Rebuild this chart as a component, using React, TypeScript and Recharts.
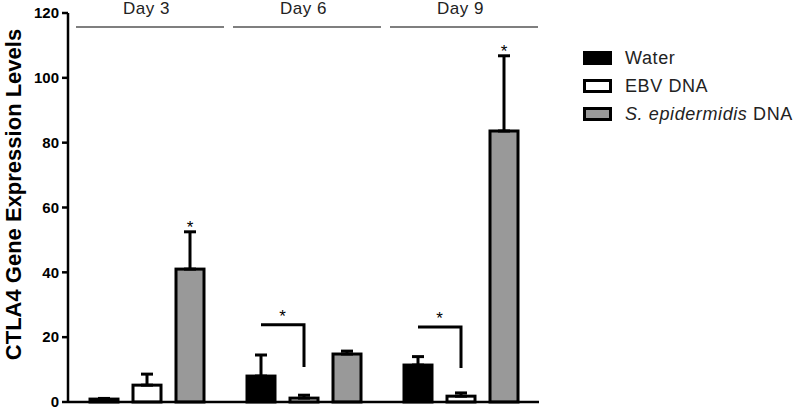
import React from "react";
import { ComposedChart, Bar, XAxis, YAxis, ErrorBar } from "recharts";

const days = ["Day 3", "Day 6", "Day 9"];
const water = [0.9, 8.0, 11.4];
const waterErr = [0.2, 6.5, 2.6];
const ebv = [5.2, 1.2, 1.8];
const ebvErr = [3.4, 0.9, 1.0];
const sEpi = [41.0, 14.8, 83.6];
const sEpiErr = [11.5, 0.9, 23.2];
// significance: star over S. epidermidis bar, bracket Water -> EBV
const sEpiStar = [true, false, true];
const bracketTop = [null, 23.8, 23.1];
const bracketBottom = [null, 10.8, 10.5];
const yTicks = [0, 20, 40, 60, 80, 100, 120];
const seriesNames = ["Water", "EBV DNA", "S. epidermidis DNA"];
const seriesFills = ["#000000", "#ffffff", "#999999"];

const FONT = "'Liberation Sans', Arial, sans-serif";
const BAR_SIZE = 28;
const BAR_GAP = 15;

const data = days.map((day, i) => ({
  day,
  water: water[i],
  waterErr: [0, waterErr[i]],
  ebv: ebv[i],
  ebvErr: [0, ebvErr[i]],
  sEpi: sEpi[i],
  sEpiErr: [0, sEpiErr[i]],
  star: sEpiStar[i],
  bTop: bracketTop[i],
  bBottom: bracketBottom[i],
}));

const makeShape = (field: string, fill: string) => (props: any) => {
  const { x, y, width, height, payload } = props;
  const value = payload[field];
  const k = value > 0 ? height / value : 0; // px per unit
  const base = y + height;
  const cx = x + width / 2;
  const extra: React.ReactNode[] = [];

  if (field === "sEpi" && payload.star) {
    const capY = base - (value + payload.sEpiErr[1]) * k;
    extra.push(
      <text key="s" x={cx} y={capY + 1} textAnchor="middle" fontSize={17} fontFamily={FONT} fill="#000">*</text>
    );
  }
  if (field === "ebv" && payload.bTop != null) {
    const topY = base - payload.bTop * k;
    const botY = base - payload.bBottom * k;
    const leftX = cx - (BAR_SIZE + BAR_GAP);
    extra.push(
      <g key="b">
        <polyline
          points={`${leftX},${topY} ${cx},${topY} ${cx},${botY}`}
          fill="none"
          stroke="#000"
          strokeWidth={3}
        />
        <text x={(leftX + cx) / 2} y={topY - 3} textAnchor="middle" fontSize={17} fontFamily={FONT} fill="#000">*</text>
      </g>
    );
  }

  return (
    <g>
      <rect x={x} y={y} width={width} height={Math.max(height, 0)} fill={fill} stroke="#000" strokeWidth={3} />
      {extra}
    </g>
  );
};

const DayTick = (props: any) => {
  const { x, y, payload } = props;
  const half = payload && payload.offset ? payload.offset : 78.5;
  return (
    <g>
      <text x={x} y={y + 1} textAnchor="middle" fontSize={17} letterSpacing={0.5} fontFamily={FONT} fill="#222">
        {payload.value}
      </text>
      <line x1={x - half + 8} x2={x + half - 1} y1={y + 14} y2={y + 14} stroke="#555" strokeWidth={1.5} />
    </g>
  );
};

const YLabel = (props: any) => {
  const vb = props.viewBox || { x: 0, y: 13, width: 68, height: 389 };
  const cx = vb.x + 13;
  const cy = vb.y + vb.height / 2 - 13;
  return (
    <text
      x={cx}
      y={cy}
      transform={`rotate(-90, ${cx}, ${cy})`}
      textAnchor="middle"
      dominantBaseline="central"
      fontSize={22}
      fontWeight="bold"
      fontFamily={FONT}
      fill="#000"
    >
      CTLA4 Gene Expression Levels
    </text>
  );
};

const fields = ["water", "ebv", "sEpi"];

export default function App() {
  return (
    <div style={{ position: "absolute", left: 0, top: 0, width: 800, height: 410, background: "#fff", fontFamily: FONT }}>
      <ComposedChart
        width={800}
        height={410}
        data={data}
        margin={{ top: 0, right: 261, bottom: 0, left: 0 }}
        barSize={BAR_SIZE}
        barGap={BAR_GAP}
      >
        <XAxis
          dataKey="day"
          tick={false}
          tickLine={false}
          height={8}
          axisLine={{ stroke: "#000", strokeWidth: 2.5 }}
        />
        <XAxis
          xAxisId="top"
          dataKey="day"
          orientation="top"
          height={13}
          axisLine={false}
          tickLine={false}
          tickSize={0}
          tickMargin={0}
          interval={0}
          tick={(p: any) => <DayTick {...p} />}
        />
        <YAxis
          type="number"
          domain={[0, 120]}
          ticks={yTicks}
          interval={0}
          width={68}
          tickSize={6}
          tickMargin={3}
          tick={{ fontSize: 15, fontWeight: "bold", fill: "#000", fontFamily: FONT }}
          tickLine={{ stroke: "#000", strokeWidth: 2.5 }}
          axisLine={{ stroke: "#000", strokeWidth: 2.5 }}
          label={<YLabel />}
        />
        {fields.map((f, i) => (
          <Bar
            key={f}
            dataKey={f}
            name={seriesNames[i]}
            fill={seriesFills[i]}
            isAnimationActive={false}
            shape={makeShape(f, seriesFills[i])}
          >
            <ErrorBar dataKey={f + "Err"} direction="y" width={6} stroke="#000" strokeWidth={3} />
          </Bar>
        ))}
      </ComposedChart>

      <div style={{ position: "absolute", left: 583, top: 44 }}>
        {seriesNames.map((name, i) => (
          <div key={name} style={{ display: "flex", alignItems: "center", height: 28 }}>
            <div
              style={{
                width: 29,
                height: 14,
                boxSizing: "border-box",
                border: "3px solid #000",
                background: seriesFills[i],
              }}
            />
            <span style={{ marginLeft: 13, fontSize: 18, letterSpacing: 0.6, color: "#222", whiteSpace: "nowrap" }}>
              {i === 2 ? (
                <>
                  <i>S. epidermidis</i> DNA
                </>
              ) : (
                name
              )}
            </span>
          </div>
        ))}
      </div>
    </div>
  );
}
